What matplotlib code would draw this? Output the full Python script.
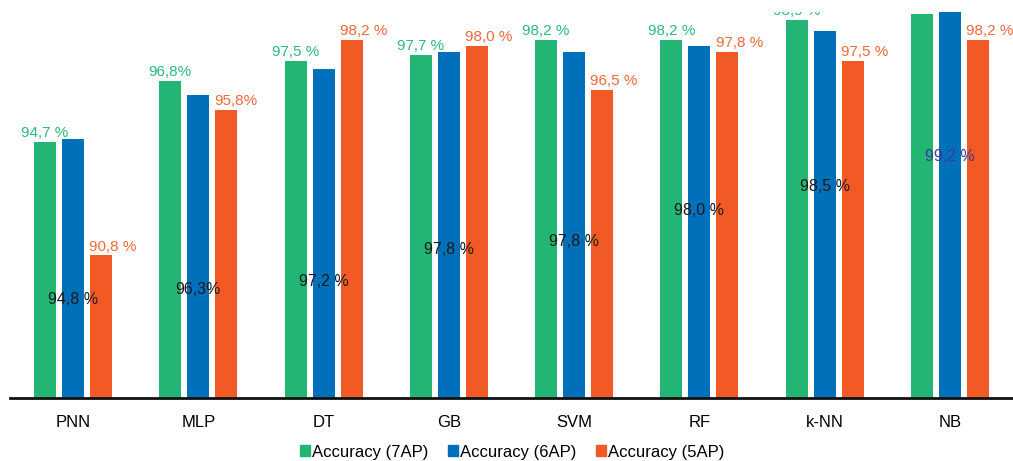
import numpy as np
import matplotlib
matplotlib.use("Agg")
import matplotlib.pyplot as plt
from matplotlib.patches import Patch

plt.rcParams["font.family"] = ["Liberation Sans", "DejaVu Sans"]

models = ["PNN", "MLP", "DT", "GB", "SVM", "RF", "k-NN", "NB"]
acc_7ap = [94.7, 96.8, 97.5, 97.7, 98.2, 98.2, 98.9, 99.1]
acc_6ap = [94.8, 96.3, 97.2, 97.8, 97.8, 98.0, 98.5, 99.2]
acc_5ap = [90.8, 95.8, 98.2, 98.0, 96.5, 97.8, 97.5, 98.2]
lbl_7ap = ["94,7 %", "96,8%", "97,5 %", "97,7 %", "98,2 %", "98,2 %", "98,9 %", "99,1 %"]
lbl_6ap = ["94,8 %", "96,3%", "97,2 %", "97,8 %", "97,8 %", "98,0 %", "98,5 %", "99,2 %"]
lbl_5ap = ["90,8 %", "95,8%", "98,2 %", "98,0 %", "96,5 %", "97,8 %", "97,5 %", "98,2 %"]

# where the 6AP labels sit (baseline, data units) - they were placed by hand in the original
pos_6ap = [89.13, 89.47, 89.75, 90.85, 91.12, 92.19, 93.01, 94.04]

c_green = "#23B573"
c_blue = "#0070BA"
c_orange = "#F15A24"

W, H = 1013, 461
fig = plt.figure(figsize=(W / 100, H / 100), dpi=100)
ax = fig.add_axes([10.4 / W, 63 / H, (1012.6 - 10.4) / W, (398 - 12.5) / H])

x = np.arange(len(models))
step = 0.224
bw = 0.176
ax.bar(x - step, acc_7ap, bw, color=c_green)
ax.bar(x, acc_6ap, bw, color=c_blue)
ax.bar(x + step, acc_5ap, bw, color=c_orange)

ax.set_xlim(-0.5, len(models) - 0.5)
ax.set_ylim(85.9, 99.15)

for i in range(len(models)):
    # top of the original image is cropped, so the 7AP labels get clipped there
    ax.annotate(lbl_7ap[i], (x[i] - step, acc_7ap[i]), xytext=(0, 3.5),
                textcoords="offset points", ha="center", va="baseline",
                fontsize=11, color="#2DB97A", annotation_clip=False, clip_on=True)
    ax.annotate(lbl_5ap[i], (x[i] + step - bw / 2, acc_5ap[i]), xytext=(-0.5, 3.5),
                textcoords="offset points", ha="left", va="baseline",
                fontsize=11, color="#F2683A", annotation_clip=False)
    col = "#3B3A98" if models[i] == "NB" else "#1a1a1a"
    ax.text(x[i], pos_6ap[i], lbl_6ap[i], ha="center", va="baseline",
            fontsize=11.5, color=col)

for s in ["top", "right", "left"]:
    ax.spines[s].set_visible(False)
ax.spines["bottom"].set_linewidth(2)
ax.spines["bottom"].set_color("#111111")
ax.set_yticks([])
ax.set_xticks(x)
ax.set_xticklabels(models, fontsize=12)
ax.tick_params(axis="x", length=0, pad=12)

handles = [Patch(color=c_green, label="Accuracy (7AP)"),
           Patch(color=c_blue, label="Accuracy (6AP)"),
           Patch(color=c_orange, label="Accuracy (5AP)")]
fig.legend(handles=handles, loc="center", bbox_to_anchor=(512 / W, 9 / H), ncol=3,
           frameon=False, fontsize=12, handlelength=0.6, handleheight=0.6,
           handletextpad=0.1, columnspacing=1.2, borderpad=0)

fig.savefig("out.png", dpi=100)
